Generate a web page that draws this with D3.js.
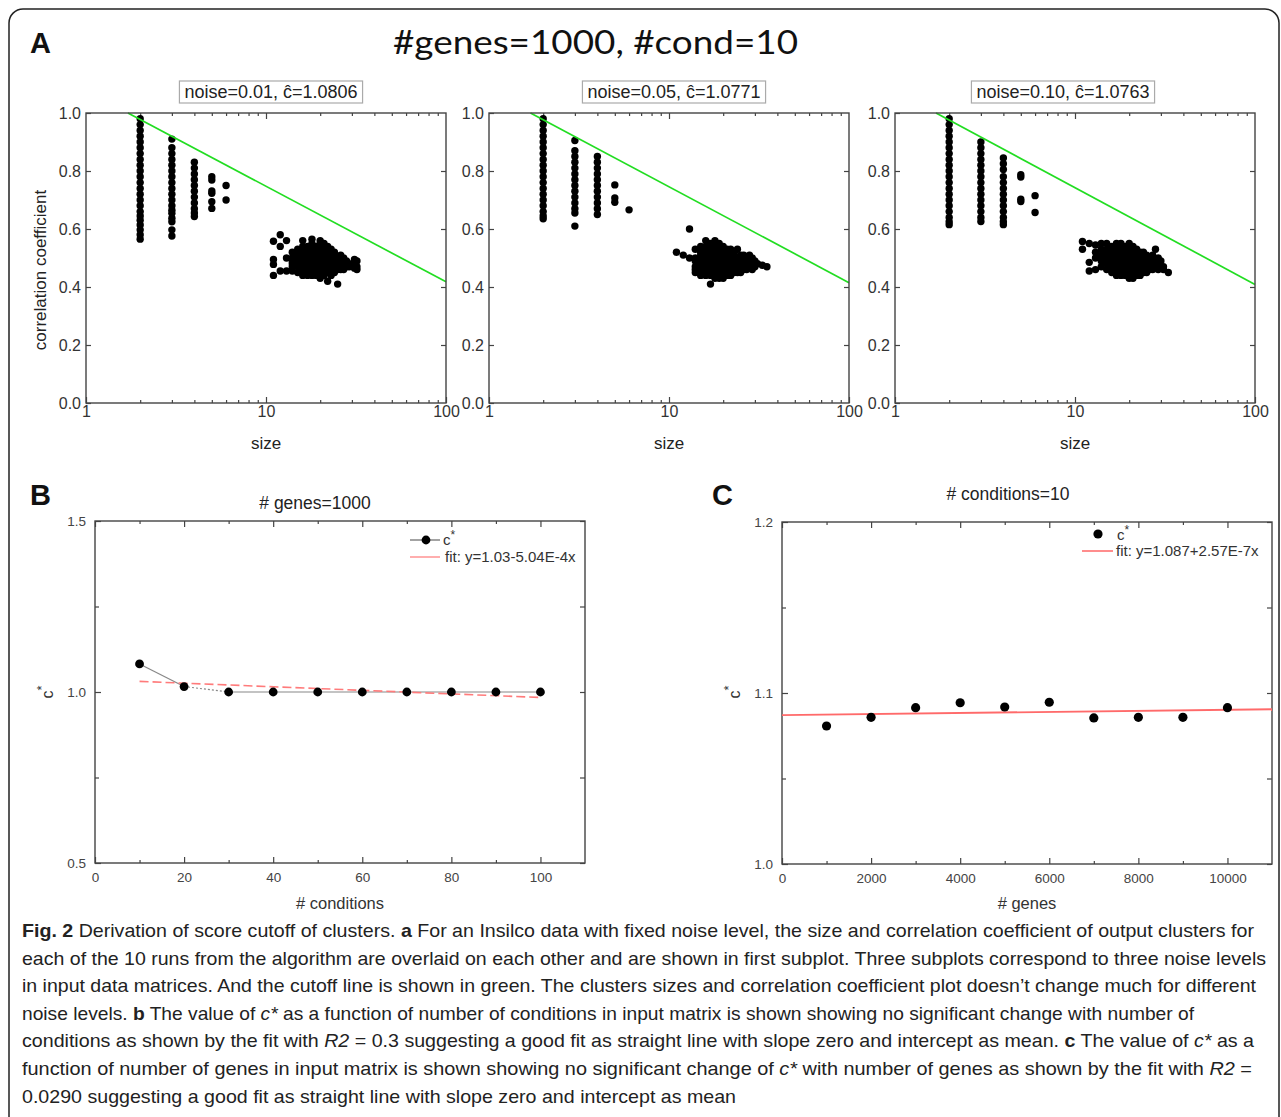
<!DOCTYPE html>
<html>
<head>
<meta charset="utf-8">
<style>
  body { margin: 0; background: #fff; }
</style>
</head>
<body>
<div id="fig"></div>
<script src="https://d3js.org/d3.v7.min.js"></script>
<script>
var width = 1281,
    height = 1117;

// ---- panel A: correlation coefficient of output clusters, by cluster size
var noiseLevels = ["0.01", "0.05", "0.10"];
var cHats = ["1.0806", "1.0771", "1.0763"];

var clustersNoise001 = [
  [2, [0.98,0.96,0.94,0.92,0.90,0.88,0.86,0.84,0.82,0.80,0.78,0.76,0.74,0.72,0.70,0.68,0.66,0.645,0.63,0.614,0.597,0.58,0.565]],
  [3, [0.91,0.88,0.86,0.84,0.82,0.80,0.78,0.76,0.74,0.72,0.70,0.68,0.665,0.654,0.637,0.625,0.597,0.576]],
  [4, [0.83,0.81,0.79,0.77,0.75,0.73,0.71,0.69,0.67,0.655,0.643]],
  [5, [0.78,0.769,0.731,0.723,0.694,0.671]],
  [6, [0.75,0.70]],
  [11, [0.558,0.495,0.478,0.44]],
  [12, [0.58,0.54,0.455]],
  [13, [0.56,0.50,0.455]],
  [14, [0.52,0.50,0.49,0.48,0.47,0.455]],
  [15, [0.53,0.51,0.50,0.49,0.48,0.47,0.45]],
  [16, [0.56,0.54,0.52,0.51,0.50,0.49,0.48,0.47,0.46,0.44]],
  [17, [0.54,0.53,0.52,0.51,0.50,0.49,0.48,0.47,0.46,0.45,0.44]],
  [18, [0.565,0.55,0.53,0.52,0.51,0.50,0.49,0.48,0.47,0.46,0.45,0.44]],
  [19, [0.54,0.53,0.52,0.51,0.50,0.49,0.48,0.47,0.46,0.45,0.44]],
  [20, [0.56,0.55,0.53,0.52,0.51,0.50,0.49,0.48,0.47,0.46,0.45,0.43]],
  [21, [0.55,0.53,0.52,0.51,0.50,0.49,0.48,0.47,0.46,0.45,0.44]],
  [22, [0.54,0.52,0.51,0.50,0.49,0.48,0.47,0.46,0.45,0.42]],
  [23, [0.53,0.52,0.50,0.49,0.48,0.47,0.46,0.45,0.44]],
  [24, [0.52,0.51,0.50,0.49,0.48,0.47,0.46,0.45]],
  [25, [0.50,0.49,0.48,0.47,0.46,0.41]],
  [26, [0.51,0.49,0.48,0.47,0.46]],
  [27, [0.50,0.48,0.47,0.46]],
  [28, [0.49,0.48,0.47]],
  [29, [0.48,0.47]],
  [31, [0.495,0.475,0.465]],
  [32, [0.49,0.47,0.46]]
];

var clustersNoise005 = [
  [2, [0.98,0.96,0.94,0.92,0.90,0.88,0.86,0.84,0.82,0.80,0.78,0.76,0.74,0.72,0.70,0.68,0.66,0.645,0.635]],
  [3, [0.905,0.87,0.85,0.83,0.81,0.79,0.77,0.75,0.73,0.71,0.69,0.67,0.655,0.61]],
  [4, [0.85,0.83,0.81,0.79,0.77,0.75,0.73,0.71,0.69,0.67,0.65]],
  [5, [0.752,0.707,0.692]],
  [6, [0.666]],
  [11, [0.52]],
  [12, [0.51]],
  [13, [0.60,0.50]],
  [14, [0.53,0.50,0.49,0.47,0.46,0.45]],
  [15, [0.54,0.52,0.51,0.50,0.49,0.48,0.46,0.45,0.44]],
  [16, [0.56,0.54,0.53,0.52,0.51,0.50,0.49,0.48,0.47,0.46,0.45,0.44]],
  [17, [0.55,0.53,0.52,0.51,0.50,0.49,0.48,0.47,0.46,0.45,0.44,0.41]],
  [18, [0.56,0.54,0.53,0.52,0.51,0.50,0.49,0.48,0.47,0.46,0.45,0.44,0.43]],
  [19, [0.55,0.53,0.52,0.51,0.50,0.49,0.48,0.47,0.46,0.45,0.44,0.43]],
  [20, [0.54,0.52,0.51,0.50,0.49,0.48,0.47,0.46,0.45,0.44,0.43]],
  [21, [0.53,0.52,0.51,0.50,0.49,0.48,0.47,0.46,0.45,0.44]],
  [22, [0.53,0.51,0.50,0.49,0.48,0.47,0.46,0.45,0.44]],
  [23, [0.52,0.51,0.50,0.49,0.48,0.47,0.46,0.45]],
  [24, [0.53,0.50,0.49,0.48,0.47,0.46,0.45]],
  [25, [0.51,0.50,0.49,0.48,0.47,0.46,0.45]],
  [26, [0.51,0.49,0.48,0.47,0.46]],
  [27, [0.50,0.48,0.47,0.46]],
  [28, [0.51,0.49,0.47]],
  [29, [0.50,0.48,0.46]],
  [30, [0.49,0.47]],
  [31, [0.48]],
  [33, [0.475]],
  [35, [0.47]]
];

var clustersNoise010 = [
  [2, [0.98,0.96,0.94,0.92,0.90,0.88,0.86,0.84,0.82,0.80,0.78,0.76,0.74,0.72,0.70,0.68,0.66,0.64,0.625,0.615]],
  [3, [0.90,0.88,0.86,0.84,0.82,0.80,0.78,0.76,0.74,0.72,0.70,0.68,0.66,0.64,0.626]],
  [4, [0.845,0.825,0.805,0.78,0.76,0.74,0.72,0.70,0.68,0.66,0.64,0.625,0.615]],
  [5, [0.787,0.779,0.703,0.695]],
  [6, [0.715,0.657]],
  [11, [0.557,0.53]],
  [12, [0.55,0.485,0.455]],
  [13, [0.545,0.52,0.50,0.46]],
  [14, [0.55,0.53,0.51,0.49,0.47]],
  [15, [0.55,0.53,0.52,0.51,0.50,0.49,0.48,0.46]],
  [16, [0.54,0.53,0.52,0.51,0.50,0.49,0.48,0.47,0.46,0.45]],
  [17, [0.55,0.54,0.52,0.51,0.50,0.49,0.48,0.47,0.46,0.45,0.44]],
  [18, [0.55,0.53,0.52,0.51,0.50,0.49,0.48,0.47,0.46,0.45,0.44]],
  [19, [0.54,0.53,0.52,0.51,0.50,0.49,0.48,0.47,0.46,0.45,0.44]],
  [20, [0.55,0.53,0.52,0.51,0.50,0.49,0.48,0.47,0.46,0.45,0.44,0.43]],
  [21, [0.54,0.52,0.51,0.50,0.49,0.48,0.47,0.46,0.45,0.44,0.43]],
  [22, [0.53,0.52,0.51,0.50,0.49,0.48,0.47,0.46,0.45,0.44]],
  [23, [0.52,0.51,0.50,0.49,0.48,0.47,0.46,0.45,0.44]],
  [24, [0.52,0.50,0.49,0.48,0.47,0.46,0.45]],
  [25, [0.51,0.50,0.49,0.48,0.47,0.46,0.45]],
  [26, [0.50,0.49,0.48,0.47,0.46]],
  [27, [0.51,0.49,0.47,0.46]],
  [28, [0.53,0.49,0.47]],
  [29, [0.50,0.48,0.46]],
  [30, [0.49,0.47]],
  [31, [0.47,0.46]],
  [33, [0.45]]
];

// cutoff line (green): [size, correlation] end points
var cutoffLines = [
  [[1.71, 1.0], [100, 0.418]],
  [[1.70, 1.0], [100, 0.415]],
  [[1.69, 1.0], [100, 0.409]]
];

// ---- panel B: c* vs number of conditions (#genes = 1000)
var conditions = [10, 20, 30, 40, 50, 60, 70, 80, 90, 100];
var cStarByConditions = [1.082, 1.016, 1.0, 1.0, 1.0, 1.0, 1.0, 1.0, 1.0, 1.0];
var fitConditions = [[10, 1.031], [100, 0.984]];

// ---- panel C: c* vs number of genes (#conditions = 10)
var genes = [1000, 2000, 3000, 4000, 5000, 6000, 7000, 8000, 9000, 10000];
var cStarByGenes = [1.0807, 1.0858, 1.0914, 1.0943, 1.0918, 1.0946, 1.0854, 1.0858, 1.0858, 1.0914];
var fitGenes = [[0, 1.0871], [11000, 1.0905]];

var captionLines = [
  [["b", "Fig. 2"], ["", " Derivation of score cutoff of clusters. "], ["b", "a"], ["", " For an Insilco data with fixed noise level, the size and correlation coefficient of output clusters for"]],
  [["", "each of the 10 runs from the algorithm are overlaid on each other and are shown in first subplot. Three subplots correspond to three noise levels"]],
  [["", "in input data matrices. And the cutoff line is shown in green. The clusters sizes and correlation coefficient plot doesn\u2019t change much for different"]],
  [["", "noise levels. "], ["b", "b"], ["", " The value of "], ["i", "c*"], ["", " as a function of number of conditions in input matrix is shown showing no significant change with number of"]],
  [["", "conditions as shown by the fit with "], ["i", "R2"], ["", " = 0.3 suggesting a good fit as straight line with slope zero and intercept as mean. "], ["b", "c"], ["", " The value of "], ["i", "c*"], ["", " as a"]],
  [["", "function of number of genes in input matrix is shown showing no significant change of "], ["i", "c*"], ["", " with number of genes as shown by the fit with "], ["i", "R2"], ["", " ="]],
  [["", "0.0290 suggesting a good fit as straight line with slope zero and intercept as mean"]]
];
var captionWidths = [1232, 1244, 1234, 1172, 1232, 1230, 714];

var sans = "'Liberation Sans', Arial, sans-serif";

var svg = d3.select("#fig").append("svg")
    .attr("width", width)
    .attr("height", height)
    .style("font-family", sans);

svg.append("rect")
    .attr("x", 9).attr("y", 9)
    .attr("width", 1270).attr("height", 1140)
    .attr("rx", 14)
    .attr("fill", "none")
    .attr("stroke", "#222")
    .attr("stroke-width", 1.5);

function panelLetter(t, x, y) {
  svg.append("text")
      .attr("x", x).attr("y", y)
      .attr("font-size", 29)
      .attr("font-weight", "bold")
      .attr("fill", "#111")
      .text(t);
}

function styleAxis(g, size, color) {
  g.select(".domain").remove();
  g.attr("font-family", sans);
  g.selectAll("line").attr("stroke", "#444").attr("stroke-width", 1.2);
  g.selectAll("text")
      .attr("font-size", size)
      .attr("fill", color);
}

function frame(x0, y0, w, h) {
  svg.append("rect")
      .attr("x", x0).attr("y", y0)
      .attr("width", w).attr("height", h)
      .attr("fill", "none")
      .attr("stroke", "#444")
      .attr("stroke-width", 1.4);
}

// ================= panel A =================
panelLetter("A", 30, 53);
svg.append("text")
    .attr("x", 393).attr("y", 54)
    .style("font-family", "Lato, 'Open Sans', sans-serif")
    .attr("font-size", 32)
    .attr("fill", "#111")
    .attr("textLength", 405)
    .attr("lengthAdjust", "spacingAndGlyphs")
    .text("#genes=1000, #cond=10");

var aLefts = [86, 489, 895],
    aTop = 113,
    aW = 360,
    aH = 290;
var aData = [clustersNoise001, clustersNoise005, clustersNoise010];
var logMinor = [2,3,4,5,6,7,8,9,20,30,40,50,60,70,80,90];

aData.forEach(function(clusters, i) {
  var left = aLefts[i];
  var x = d3.scaleLog().domain([1, 100]).range([left, left + aW]);
  var y = d3.scaleLinear().domain([0, 1]).range([aTop + aH, aTop]);
  var g = svg.append("g");

  // title box
  var tb = g.append("text")
      .attr("x", left + aW / 2 + (i === 2 ? -12 : 5)).attr("y", 98)
      .attr("text-anchor", "middle")
      .attr("font-size", 18)
      .attr("fill", "#222")
      .text("noise=" + noiseLevels[i] + ", \u0109=" + cHats[i]);
  var bb = tb.node().getBBox();
  g.insert("rect", function() { return tb.node(); })
      .attr("x", bb.x - 5).attr("y", 81)
      .attr("width", bb.width + 10).attr("height", 22)
      .attr("fill", "#fff")
      .attr("stroke", "#aaa")
      .attr("stroke-width", 1.2);

  g.append("g").attr("transform", "translate(0," + (aTop + aH) + ")")
      .call(d3.axisBottom(x).tickValues([1, 10, 100]).tickFormat(d3.format("d"))
            .tickSizeInner(-6).tickSizeOuter(0).tickPadding(3))
      .call(styleAxis, 16, "#333");
  g.append("g").attr("transform", "translate(0," + (aTop + aH) + ")")
      .call(d3.axisBottom(x).tickValues(logMinor).tickFormat("").tickSizeInner(-3).tickSizeOuter(0))
      .call(styleAxis, 16, "#333");
  g.append("g").attr("transform", "translate(0," + aTop + ")")
      .call(d3.axisTop(x).tickValues([10]).tickFormat("").tickSizeInner(-6).tickSizeOuter(0))
      .call(styleAxis, 16, "#333");
  g.append("g").attr("transform", "translate(0," + aTop + ")")
      .call(d3.axisTop(x).tickValues(logMinor).tickFormat("").tickSizeInner(-3).tickSizeOuter(0))
      .call(styleAxis, 16, "#333");
  g.append("g").attr("transform", "translate(" + left + ",0)")
      .call(d3.axisLeft(y).tickValues([0, 0.2, 0.4, 0.6, 0.8, 1.0]).tickFormat(d3.format(".1f"))
            .tickSizeInner(-5).tickSizeOuter(0).tickPadding(5))
      .call(styleAxis, 16, "#333");
  g.append("g").attr("transform", "translate(" + (left + aW) + ",0)")
      .call(d3.axisRight(y).tickValues([0.2, 0.4, 0.6, 0.8]).tickFormat("")
            .tickSizeInner(-5).tickSizeOuter(0))
      .call(styleAxis, 16, "#333");

  frame(left, aTop, aW, aH);

  var pts = [];
  clusters.forEach(function(c) {
    c[1].forEach(function(r) { pts.push([c[0], r]); });
  });
  g.selectAll("circle.pt").data(pts).enter().append("circle")
      .attr("class", "pt")
      .attr("cx", function(d) { return x(d[0]); })
      .attr("cy", function(d) { return y(d[1]); })
      .attr("r", 3.7)
      .attr("fill", "#000");

  g.append("path")
      .datum(cutoffLines[i])
      .attr("d", d3.line().x(function(d) { return x(d[0]); }).y(function(d) { return y(d[1]); }))
      .attr("fill", "none")
      .attr("stroke", "#22dd22")
      .attr("stroke-width", 1.7);

  g.append("text")
      .attr("x", left + aW / 2).attr("y", 449)
      .attr("text-anchor", "middle")
      .attr("font-size", 17)
      .attr("fill", "#222")
      .text("size");

  if (i === 0) {
    g.append("text")
        .attr("transform", "translate(46," + (aTop + aH / 2 + 12) + ") rotate(-90)")
        .attr("text-anchor", "middle")
        .attr("font-size", 17)
        .attr("fill", "#222")
        .text("correlation coefficient");
  }
});

// ================= panel B =================
panelLetter("B", 30, 505);
var xB = d3.scaleLinear().domain([0, 110]).range([95, 585]);
var yB = d3.scaleLinear().domain([0.5, 1.5]).range([863, 521]);

function boxAxes(x, y, xMajor, xMinor, yMajor, yMinor, yFmt, xFmt) {
  var x0 = x.range()[0], x1 = x.range()[1], y0 = y.range()[0], y1 = y.range()[1];
  svg.append("g").attr("transform", "translate(0," + y0 + ")")
      .call(d3.axisBottom(x).tickValues(xMajor).tickFormat(xFmt).tickSizeInner(-6).tickSizeOuter(0).tickPadding(9))
      .call(styleAxis, 13.5, "#444");
  svg.append("g").attr("transform", "translate(0," + y0 + ")")
      .call(d3.axisBottom(x).tickValues(xMinor).tickFormat("").tickSizeInner(-3).tickSizeOuter(0))
      .call(styleAxis, 13.5, "#444");
  svg.append("g").attr("transform", "translate(0," + y1 + ")")
      .call(d3.axisTop(x).tickValues(xMajor).tickFormat("").tickSizeInner(-6).tickSizeOuter(0))
      .call(styleAxis, 13.5, "#444");
  svg.append("g").attr("transform", "translate(0," + y1 + ")")
      .call(d3.axisTop(x).tickValues(xMinor).tickFormat("").tickSizeInner(-3).tickSizeOuter(0))
      .call(styleAxis, 13.5, "#444");
  svg.append("g").attr("transform", "translate(" + x0 + ",0)")
      .call(d3.axisLeft(y).tickValues(yMajor).tickFormat(yFmt).tickSizeInner(-6).tickSizeOuter(0).tickPadding(9))
      .call(styleAxis, 13.5, "#444");
  svg.append("g").attr("transform", "translate(" + x0 + ",0)")
      .call(d3.axisLeft(y).tickValues(yMinor).tickFormat("").tickSizeInner(-4).tickSizeOuter(0))
      .call(styleAxis, 13.5, "#444");
  svg.append("g").attr("transform", "translate(" + x1 + ",0)")
      .call(d3.axisRight(y).tickValues(yMajor.concat(yMinor)).tickFormat("").tickSizeInner(-5).tickSizeOuter(0))
      .call(styleAxis, 13.5, "#444");
  frame(x0, y1, x1 - x0, y0 - y1);
}

boxAxes(xB, yB, [0, 20, 40, 60, 80, 100], [10, 30, 50, 70, 90], [0.5, 1.0, 1.5], [0.75, 1.25],
        d3.format(".1f"), d3.format("d"));

svg.append("text")
    .attr("x", 315).attr("y", 509)
    .attr("text-anchor", "middle")
    .attr("font-size", 17.5)
    .attr("fill", "#222")
    .text("# genes=1000");

var ptsB = conditions.map(function(c, i) { return [c, cStarByConditions[i]]; });
d3.pairs(ptsB).forEach(function(p, i) {
  svg.append("line")
      .attr("x1", xB(p[0][0])).attr("y1", yB(p[0][1]))
      .attr("x2", xB(p[1][0])).attr("y2", yB(p[1][1]))
      .attr("stroke", "#888")
      .attr("stroke-width", 1.2)
      .attr("stroke-dasharray", i === 1 ? "2,2" : null);
});
svg.append("path")
    .datum(fitConditions)
    .attr("d", d3.line().x(function(d) { return xB(d[0]); }).y(function(d) { return yB(d[1]); }))
    .attr("fill", "none")
    .attr("stroke", "#ff7b7b")
    .attr("stroke-width", 1.6)
    .attr("stroke-dasharray", "9,4");
svg.selectAll("circle.b").data(ptsB).enter().append("circle")
    .attr("class", "b")
    .attr("cx", function(d) { return xB(d[0]); })
    .attr("cy", function(d) { return yB(d[1]); })
    .attr("r", 4.4)
    .attr("fill", "#000");

// legend B
svg.append("line").attr("x1", 410).attr("x2", 440).attr("y1", 540).attr("y2", 540)
    .attr("stroke", "#666").attr("stroke-width", 1.2);
svg.append("circle").attr("cx", 426).attr("cy", 540).attr("r", 4.4).attr("fill", "#000");
var lb = svg.append("text").attr("x", 443).attr("y", 545).attr("font-size", 15).attr("fill", "#333");
lb.append("tspan").text("c");
lb.append("tspan").attr("dy", -6).attr("font-size", 12).text("*");
svg.append("line").attr("x1", 410).attr("x2", 440).attr("y1", 557).attr("y2", 557)
    .attr("stroke", "#ff9a9a").attr("stroke-width", 1.6);
svg.append("text").attr("x", 445).attr("y", 562).attr("font-size", 15).attr("fill", "#333")
    .text("fit: y=1.03-5.04E-4x");

svg.append("text")
    .attr("x", 340).attr("y", 909)
    .attr("text-anchor", "middle")
    .attr("font-size", 16.5)
    .attr("fill", "#333")
    .text("# conditions");
var yl = svg.append("text")
    .attr("transform", "translate(53,692) rotate(-90)")
    .attr("text-anchor", "middle")
    .attr("font-size", 16)
    .attr("fill", "#333");
yl.append("tspan").text("c");
yl.append("tspan").attr("dy", -7).attr("font-size", 13).text("*");

// ================= panel C =================
panelLetter("C", 712, 505);
var xC = d3.scaleLinear().domain([0, 11000]).range([782, 1272]);
var yC = d3.scaleLinear().domain([1.0, 1.2]).range([864, 522]);

boxAxes(xC, yC, [0, 2000, 4000, 6000, 8000, 10000], [1000, 3000, 5000, 7000, 9000], [1.0, 1.1, 1.2], [1.05, 1.15],
        d3.format(".1f"), d3.format("d"));

svg.append("text")
    .attr("x", 1008).attr("y", 500)
    .attr("text-anchor", "middle")
    .attr("font-size", 17.5)
    .attr("fill", "#222")
    .text("# conditions=10");

svg.append("path")
    .datum(fitGenes)
    .attr("d", d3.line().x(function(d) { return xC(d[0]); }).y(function(d) { return yC(d[1]); }))
    .attr("fill", "none")
    .attr("stroke", "#ff6a6a")
    .attr("stroke-width", 1.8);
var ptsC = genes.map(function(n, i) { return [n, cStarByGenes[i]]; });
svg.selectAll("circle.c").data(ptsC).enter().append("circle")
    .attr("class", "c")
    .attr("cx", function(d) { return xC(d[0]); })
    .attr("cy", function(d) { return yC(d[1]); })
    .attr("r", 4.6)
    .attr("fill", "#000");

// legend C
svg.append("circle").attr("cx", 1098).attr("cy", 534).attr("r", 4.6).attr("fill", "#000");
var lc = svg.append("text").attr("x", 1117).attr("y", 540).attr("font-size", 15).attr("fill", "#333");
lc.append("tspan").text("c");
lc.append("tspan").attr("dy", -6).attr("font-size", 12).text("*");
svg.append("line").attr("x1", 1082).attr("x2", 1113).attr("y1", 551).attr("y2", 551)
    .attr("stroke", "#ff7070").attr("stroke-width", 1.6);
svg.append("text").attr("x", 1116).attr("y", 556).attr("font-size", 15).attr("fill", "#333")
    .text("fit: y=1.087+2.57E-7x");

svg.append("text")
    .attr("x", 1027).attr("y", 909)
    .attr("text-anchor", "middle")
    .attr("font-size", 16.5)
    .attr("fill", "#333")
    .text("# genes");
var yl2 = svg.append("text")
    .attr("transform", "translate(740,692) rotate(-90)")
    .attr("text-anchor", "middle")
    .attr("font-size", 16)
    .attr("fill", "#333");
yl2.append("tspan").text("c");
yl2.append("tspan").attr("dy", -7).attr("font-size", 13).text("*");

// ================= caption =================
captionLines.forEach(function(parts, i) {
  var t = svg.append("text")
      .attr("x", 22).attr("y", 937 + i * 27.6)
      .style("font-family", "'Liberation Sans Narrow', 'Liberation Sans', sans-serif")
      .attr("font-size", 19)
      .attr("fill", "#222")
      .attr("textLength", captionWidths[i])
      .attr("lengthAdjust", "spacingAndGlyphs");
  parts.forEach(function(p) {
    var s = t.append("tspan").text(p[1]);
    if (p[0] === "b") s.attr("font-weight", "bold");
    if (p[0] === "i") s.attr("font-style", "italic");
  });
});
</script>
</body>
</html>
